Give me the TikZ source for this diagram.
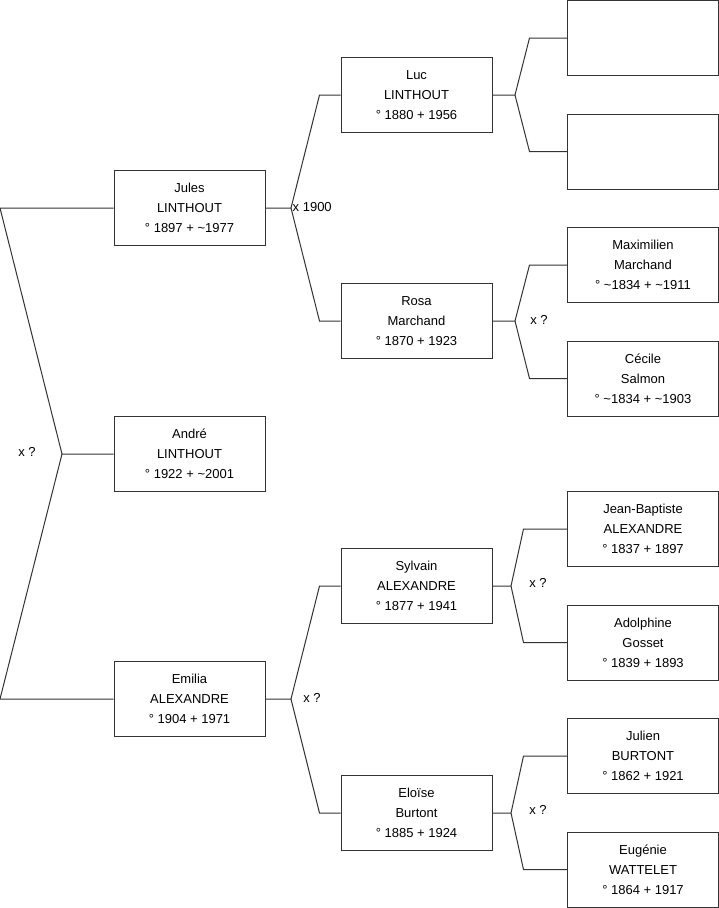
\documentclass[tikz,border=0pt]{standalone}
\usepackage{fontspec}
\setmainfont{Liberation Sans}
\usepackage{tikz}
\usetikzlibrary{positioning}
\newcommand{\abt}{\textasciitilde}

\begin{document}
\begin{tikzpicture}[x=1pt,y=-1pt,font=\fontsize{13}{20}\selectfont,every node/.style={align=center},
    person/.style={draw=black!80,line width=1pt,minimum width=151pt,minimum height=75pt,inner sep=0pt},
    link/.style={draw=black!80,line width=1pt}]
        \useasboundingbox (0,0) rectangle (719,908);
        % generation 1 and 2
        \node[person] (andre) at (189.5,454) {André\\LINTHOUT\\° 1922 + \abt2001};
        \node[person] (jules) at (189.5,208) {Jules\\LINTHOUT\\° 1897 + \abt1977};
        \node[person] (emilia) at (189.5,699) {Emilia\\ALEXANDRE\\° 1904 + 1971};
        % generation 3
        \node[person] (luc) at (416.5,95) {Luc\\LINTHOUT\\° 1880 + 1956};
        \node[person] (rosa) at (416.5,321) {Rosa\\Marchand\\° 1870 + 1923};
        \node[person] (sylvain) at (416.5,586) {Sylvain\\ALEXANDRE\\° 1877 + 1941};
        \node[person] (eloise) at (416.5,813) {Eloïse\\Burtont\\° 1885 + 1924};
        % generation 4
        \node[person] (lucf) at (643,38) {};
        \node[person] (lucm) at (643,151.5) {};
        \node[person] (maxi) at (643,265) {Maximilien\\Marchand\\° \abt1834 + \abt1911};
        \node[person] (cecile) at (643,378.5) {Cécile\\Salmon\\° \abt1834 + \abt1903};
        \node[person] (jb) at (643,529) {Jean-Baptiste\\ALEXANDRE\\° 1837 + 1897};
        \node[person] (adolphine) at (643,642.5) {Adolphine\\Gosset\\° 1839 + 1893};
        \node[person] (julien) at (643,756) {Julien\\BURTONT\\° 1862 + 1921};
        \node[person] (eugenie) at (643,869.5) {Eugénie\\WATTELET\\° 1864 + 1917};
        % forks
        \coordinate (fa) at (62,454);
        \coordinate (fj) at (291,208);
        \coordinate (fe) at (291,699);
        \coordinate (fl) at (515,95);
        \coordinate (fr) at (515,321);
        \coordinate (fs) at (511,586);
        \coordinate (fel) at (511,813);
        \draw[link] (andre.west) -- (fa) -- ([xshift=-113.5pt]jules.west) -- (jules.west);
        \draw[link] (fa) -- ([xshift=-113.5pt]emilia.west) -- (emilia.west);
        \draw[link] (jules.east) -- (fj) -- ([xshift=-21pt]luc.west) -- (luc.west);
        \draw[link] (fj) -- ([xshift=-21pt]rosa.west) -- (rosa.west);
        \draw[link] (emilia.east) -- (fe) -- ([xshift=-21pt]sylvain.west) -- (sylvain.west);
        \draw[link] (fe) -- ([xshift=-21pt]eloise.west) -- (eloise.west);
        \draw[link] (luc.east) -- (fl) -- ([xshift=-37.5pt]lucf.west) -- (lucf.west);
        \draw[link] (fl) -- ([xshift=-37.5pt]lucm.west) -- (lucm.west);
        \draw[link] (rosa.east) -- (fr) -- ([xshift=-37.5pt]maxi.west) -- (maxi.west);
        \draw[link] (fr) -- ([xshift=-37.5pt]cecile.west) -- (cecile.west);
        \draw[link] (sylvain.east) -- (fs) -- ([xshift=-43.5pt]jb.west) -- (jb.west);
        \draw[link] (fs) -- ([xshift=-43.5pt]adolphine.west) -- (adolphine.west);
        \draw[link] (eloise.east) -- (fel) -- ([xshift=-43.5pt]julien.west) -- (julien.west);
        \draw[link] (fel) -- ([xshift=-43.5pt]eugenie.west) -- (eugenie.west);
        % marriages
        \node (xa) at (27,452) {x ?};
        \node[anchor=west,inner sep=1.5pt] (xj) at (291,207) {x 1900};
        \node (xe) at (312,698) {x ?};
        \node (xr) at (539,320) {x ?};
        \node (xs) at (538,583) {x ?};
        \node (xel) at (538,810) {x ?};
      \end{tikzpicture}
\end{document}
